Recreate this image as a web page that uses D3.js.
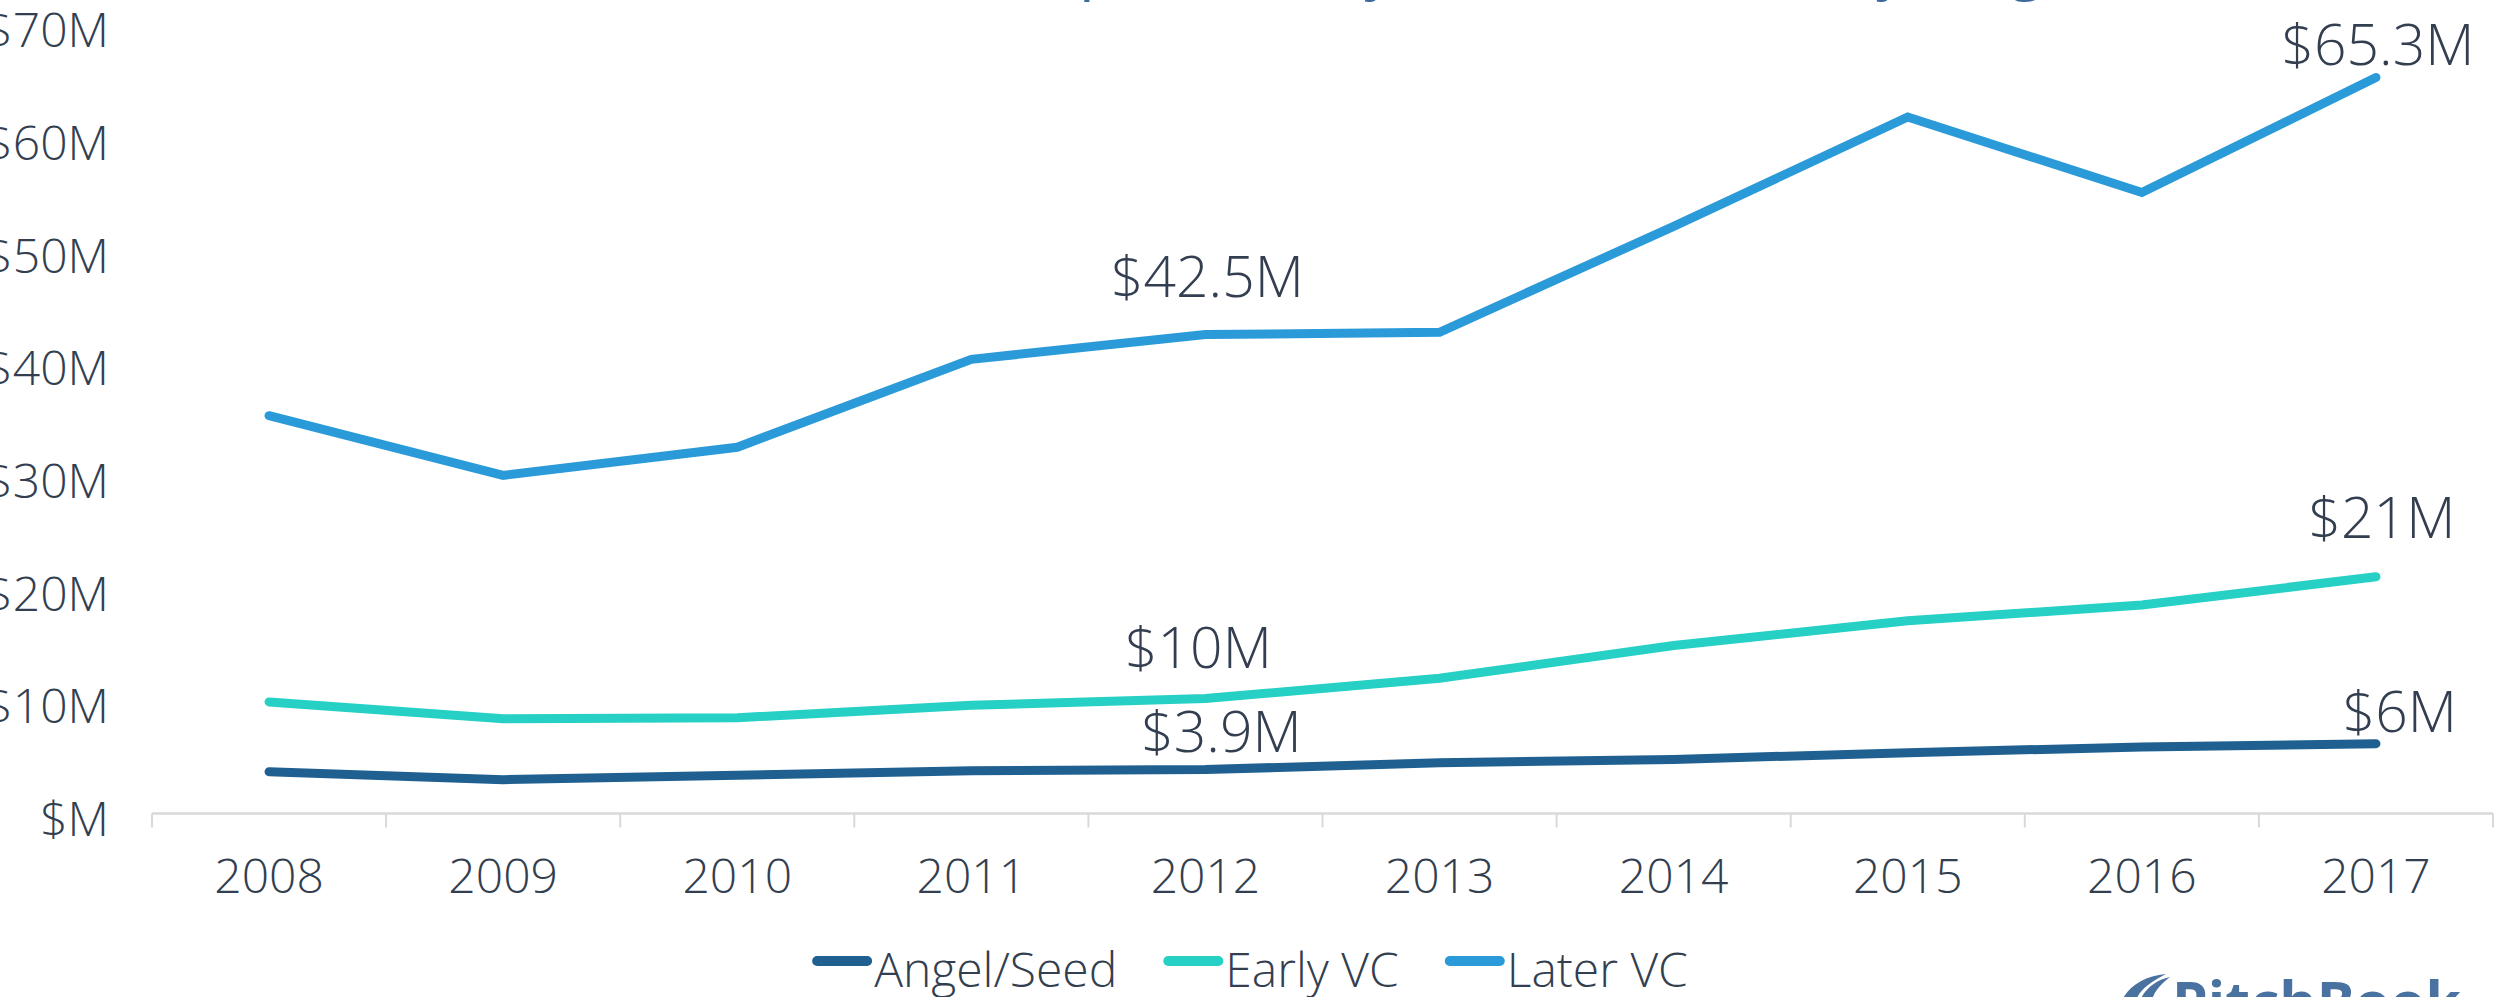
<!DOCTYPE html>
<html>
<head>
<meta charset="utf-8">
<script src="https://cdn.jsdelivr.net/npm/d3@7"></script>
<style>
  html, body { margin: 0; padding: 0; background: #fff; overflow: hidden; }
  svg { display: block; font-family: "Open Sans", "Noto Sans", sans-serif; font-weight: 300; }
</style>
</head>
<body>
<svg id="chart"></svg>
<script>
const WIDTH = 2506;
const HEIGHT = 997;

const YEARS = ["2008", "2009", "2010", "2011", "2012", "2013", "2014", "2015", "2016", "2017"];
const SERIES = ["Angel/Seed", "Early VC", "Later VC"];
const ANGEL_SEED = [3.7, 3.0, 3.4, 3.8, 3.9, 4.5, 4.8, 5.4, 5.9, 6.2];
const EARLY_VC = [9.9, 8.4, 8.5, 9.6, 10.2, 12.0, 14.9, 17.1, 18.5, 21.0];
const LATER_VC = [35.3, 30.0, 32.5, 40.3, 42.5, 42.7, 52.1, 61.8, 55.1, 65.3];
const Y_TICKS = [0, 10, 20, 30, 40, 50, 60, 70];

// data labels: series, year, text
const LABEL_SERIES = ["Later VC", "Later VC", "Early VC", "Early VC", "Angel/Seed", "Angel/Seed"];
const LABEL_YEARS = ["2012", "2017", "2012", "2017", "2012", "2017"];
const LABEL_TEXT = ["$42.5M", "$65.3M", "$10M", "$21M", "$3.9M", "$6M"];

const TITLE = "Median pre-money valuation ($M) by stage";

const COLORS = { "Angel/Seed": "#1F6091", "Early VC": "#26D0C4", "Later VC": "#2A9AD9" };
const TEXT_COLOR = "#333F50";

const values = { "Angel/Seed": ANGEL_SEED, "Early VC": EARLY_VC, "Later VC": LATER_VC };

const svg = d3.select("#chart")
    .attr("width", WIDTH)
    .attr("height", HEIGHT);

const x = d3.scaleBand()
    .domain(YEARS)
    .range([152, 2493])
    .padding(0);

const xc = d => x(d) + x.bandwidth() / 2;

const y = d3.scaleLinear()
    .domain([0, 70])
    .range([813.5, 24.6]);

// title (only its descenders reach into the picture)
svg.append("text")
    .attr("x", 2078)
    .attr("y", -13)
    .attr("text-anchor", "end")
    .attr("fill", "#3D6A9B")
    .style("font-size", "62px")
    .style("font-weight", 400)
    .text(TITLE);

// y axis labels
const yAxis = svg.append("g")
    .attr("transform", "translate(109,0)")
    .call(d3.axisLeft(y).tickValues(Y_TICKS).tickSize(0).tickPadding(0)
        .tickFormat(d => "$" + (d === 0 ? "" : d) + "M"))
    .attr("font-family", null)
    .attr("font-size", null);
yAxis.select(".domain").remove();
yAxis.selectAll("text")
    .attr("dy", null)
    .attr("y", 22)
    .attr("fill", TEXT_COLOR)
    .style("font-size", "48px");

// x axis line + boundary ticks
const edges = YEARS.map(d => x(d)).concat([x.range()[1]]);
svg.append("line")
    .attr("x1", x.range()[0])
    .attr("x2", x.range()[1])
    .attr("y1", y(0))
    .attr("y2", y(0))
    .attr("stroke", "#D9D9D9")
    .attr("stroke-width", 2.5);
svg.selectAll(".xtick")
    .data(edges)
    .join("line")
    .attr("class", "xtick")
    .attr("x1", d => d).attr("x2", d => d)
    .attr("y1", y(0)).attr("y2", y(0) + 14)
    .attr("stroke", "#D9D9D9")
    .attr("stroke-width", 2);

svg.selectAll(".xlabel")
    .data(YEARS)
    .join("text")
    .attr("class", "xlabel")
    .attr("x", d => xc(d))
    .attr("y", 893)
    .attr("text-anchor", "middle")
    .attr("fill", TEXT_COLOR)
    .style("font-size", "48px")
    .text(d => d);

// lines
const line = d3.line()
    .x((d, i) => xc(YEARS[i]))
    .y(d => y(d));

SERIES.forEach(s => {
    svg.append("path")
        .attr("d", line(values[s]))
        .attr("fill", "none")
        .attr("stroke", COLORS[s])
        .attr("stroke-width", 9)
        .attr("stroke-linecap", "round")
        .attr("stroke-linejoin", "miter");
});

// data labels
const labelDy = [38, 13, 31, 39, 18, 12];
const labelDx = [2, 2, -7, 6, 16, 24];
LABEL_TEXT.forEach((t, i) => {
    const s = LABEL_SERIES[i];
    const yr = LABEL_YEARS[i];
    const v = values[s][YEARS.indexOf(yr)];
    svg.append("text")
        .attr("x", xc(yr) + labelDx[i])
        .attr("y", y(v) - labelDy[i])
        .attr("text-anchor", "middle")
        .attr("fill", TEXT_COLOR)
        .style("font-size", "57px")
        .text(t);
});

// legend
const legend = svg.append("g");
let lx = 0;
SERIES.forEach((s, i) => {
    const g = legend.append("g").attr("transform", `translate(${lx},0)`);
    g.append("line")
        .attr("x1", 5).attr("x2", 55)
        .attr("y1", 961).attr("y2", 961)
        .attr("stroke", COLORS[s])
        .attr("stroke-width", 10)
        .attr("stroke-linecap", "round");
    const t = g.append("text")
        .attr("x", 62)
        .attr("y", 987)
        .attr("fill", TEXT_COLOR)
        .style("font-size", "48px")
        .text(s);
    lx += 62 + t.node().getComputedTextLength() + 46;
});
const legendW = lx - 46;
legend.attr("transform", `translate(${1250 - legendW / 2},0)`);

// PitchBook logo, cut off at the bottom edge
const logo = svg.append("g").attr("fill", "#4A72A0");
logo.append("path")
    .attr("d", "M2122,1000 C2130,985 2145,976 2166,974 C2150,982 2140,990 2136,1000 Z");
logo.append("path")
    .attr("d", "M2140,1000 C2146,988 2156,980 2170,977 C2160,985 2154,992 2152,1000 Z");
logo.append("text")
    .attr("x", 2172)
    .attr("y", 1023)
    .style("font-size", "57px")
    .style("font-weight", 700)
    .text("PitchBook");
</script>
</body>
</html>
